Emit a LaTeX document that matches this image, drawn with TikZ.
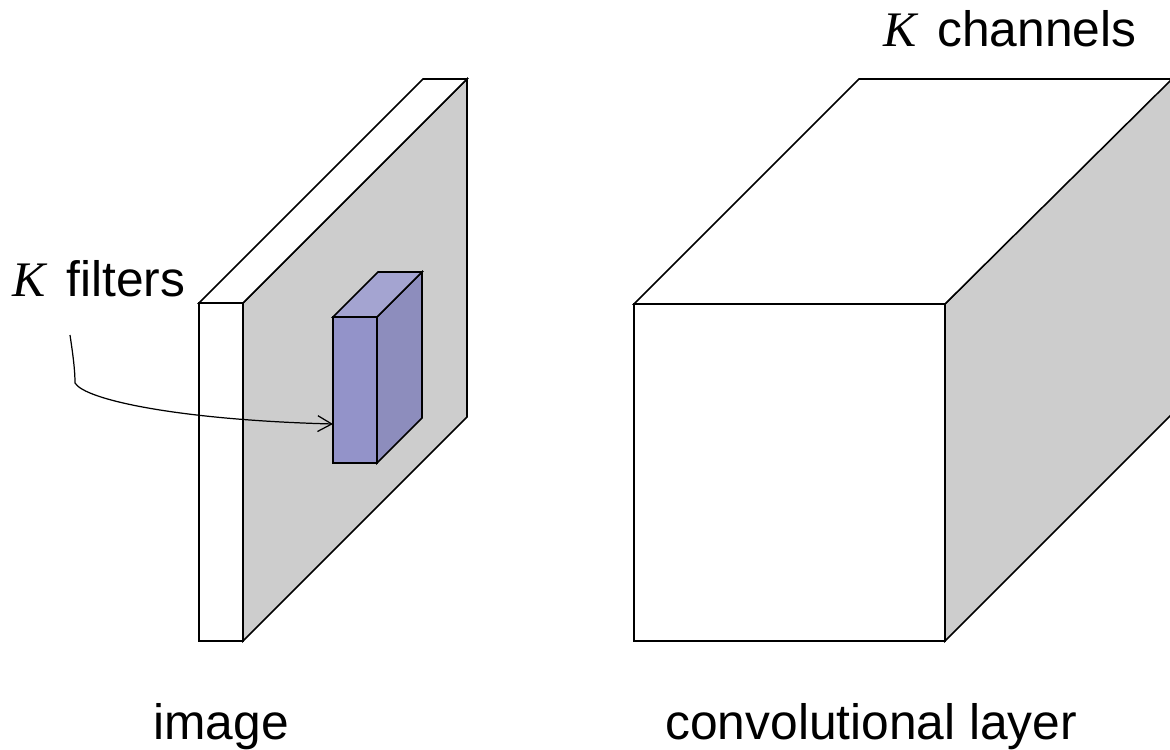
\documentclass[tikz,border=0pt]{standalone}
\usepackage{fontspec}
\setmainfont{Liberation Sans}
\newfontfamily\kfont{Liberation Serif}
\usepackage{xcolor}
\usepackage{tikz}
\usetikzlibrary{arrows.meta}

\definecolor{slabgray}{RGB}{205,205,205}
\definecolor{filterfront}{RGB}{147,147,201}
\definecolor{filtertop}{RGB}{164,164,209}
\definecolor{filterside}{RGB}{141,141,189}
\newcommand{\kvar}{{\kfont\itshape K}\hspace{0.42em}}

\begin{document}
\begin{tikzpicture}[
  x=0.02cm, y=-0.02cm,
  face/.style={draw, line width=0.9pt, line join=miter},
  textlabel/.style={anchor=base west, inner sep=0pt, font=\fontsize{28.3}{34}\selectfont},
  arrow/.style={-{Straight Barb[length=8pt,width=9pt]}, line width=0.7pt}
]
\useasboundingbox (0,0) rectangle (1170,750);

% image slab
\filldraw[face, fill=slabgray] (243,303) -- (467,79) -- (467,417) -- (243,641) -- cycle;
\filldraw[face, fill=white] (199,303) -- (423,79) -- (467,79) -- (243,303) -- cycle;
\filldraw[face, fill=white] (199,303) rectangle (243,641);

% filter block
\filldraw[face, fill=filterside] (377,317) -- (422,272) -- (422,418) -- (377,463) -- cycle;
\filldraw[face, fill=filtertop] (333,317) -- (378,272) -- (422,272) -- (377,317) -- cycle;
\filldraw[face, fill=filterfront] (333,317) rectangle (377,463);

% convolutional layer (back edge runs off the page)
\filldraw[face, fill=slabgray] (945,304) -- (1172,77) -- (1172,414) -- (945,641) -- cycle;
\filldraw[face, fill=white] (634,304) -- (859,79) -- (1172,79) -- (945,304) -- cycle;
\filldraw[face, fill=white] (634,304) rectangle (945,641);

% labels
\node[textlabel] (filterslabel) at (12,296) {\kvar filters};
\node[textlabel] (channelslabel) at (883,47) {\kvar channels};
\node[textlabel] (imagelabel) at (153,739) {image};
\node[textlabel] (layerlabel) at (665,739) {convolutional layer};

% pointer to the filter
\coordinate (arrowtail) at (70,335);
\coordinate (arrowbend) at (75,383);
\coordinate (arrowhead) at (333,424);
\draw[arrow] (arrowtail) .. controls (73,355) and (75,370) .. (arrowbend)
  .. controls (85,400) and (180,420) .. (arrowhead);
\end{tikzpicture}
\end{document}
